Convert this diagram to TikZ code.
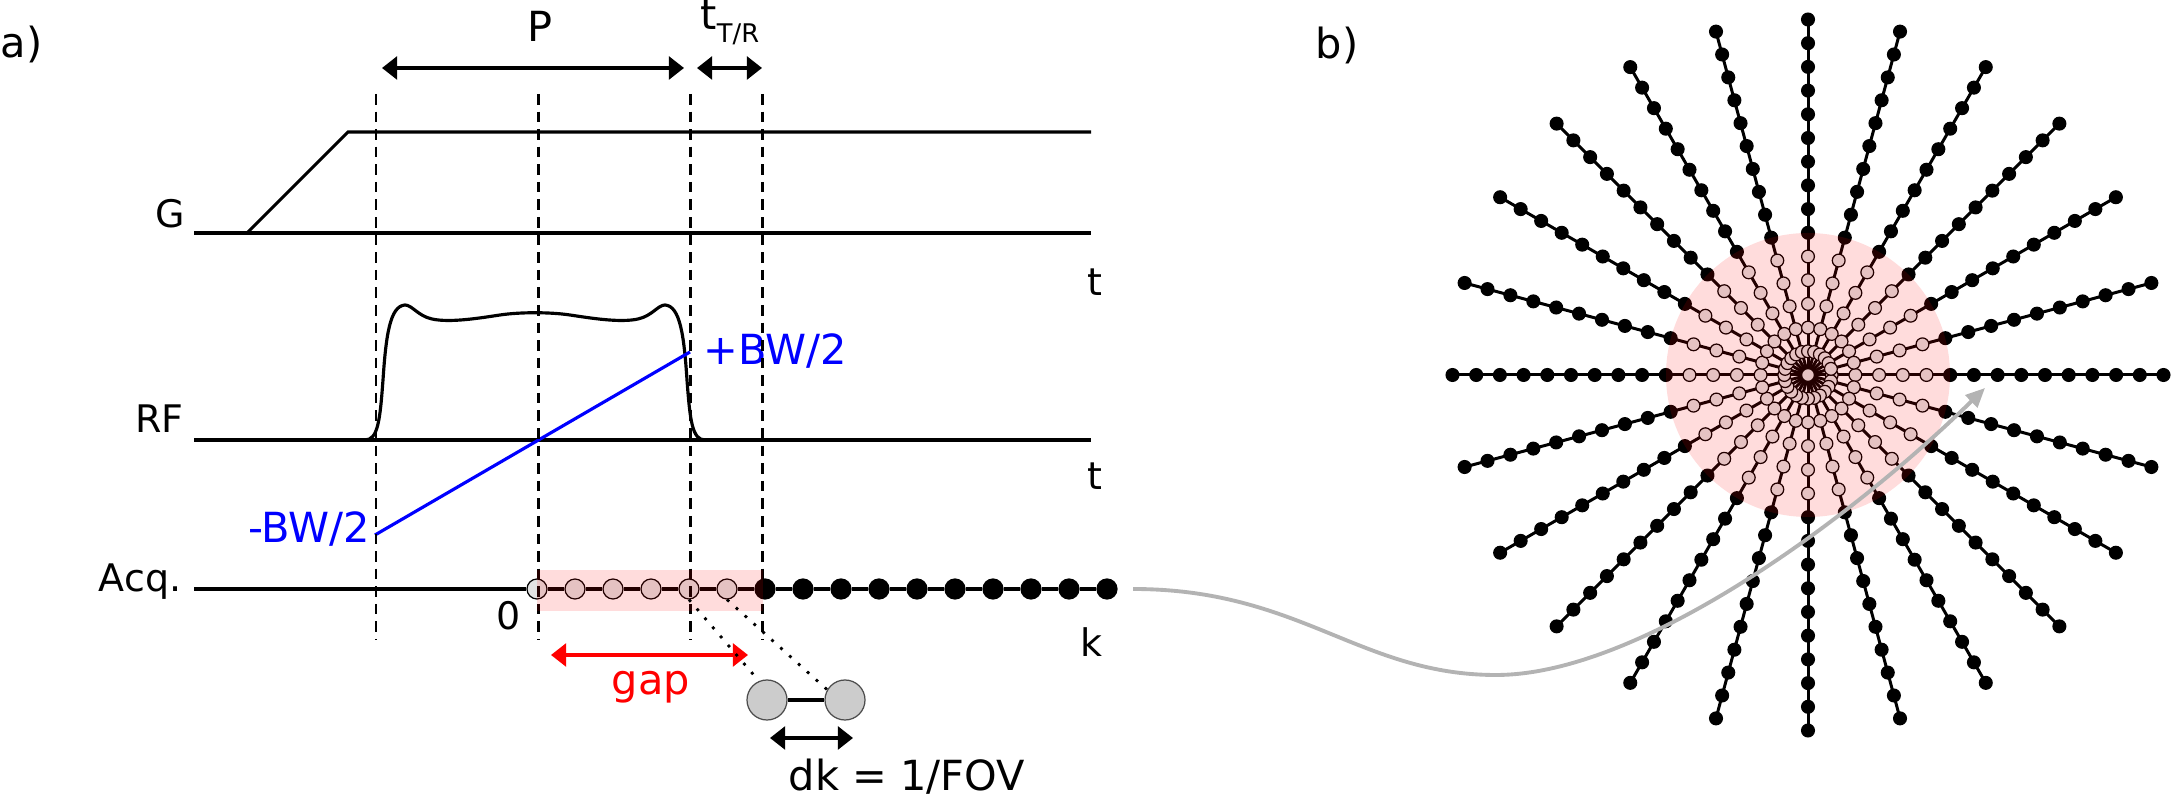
\documentclass[tikz,border=0pt]{standalone}
\usepackage{fontspec}
\setmainfont{DejaVu Sans}
\usetikzlibrary{arrows.meta}
\definecolor{lgray}{RGB}{226,226,226}
\definecolor{bgray}{RGB}{204,204,204}
\definecolor{cgray}{RGB}{179,179,179}
\begin{document}
\begin{tikzpicture}[x=0.01cm,y=-0.01cm,
  trace/.style={line width=0.9pt},
  vdash/.style={line width=0.85pt, dash pattern=on 3pt off 2pt},
  dim/.style={line width=0.9pt, {Triangle[length=4.3pt,width=6.5pt]}-{Triangle[length=4.3pt,width=6.5pt]}},
  lab/.style={font=\fontsize{10.8}{13}\selectfont, inner sep=0pt},
  ann/.style={font=\fontsize{11.8}{14}\selectfont, inner sep=0pt},
  adot/.style={circle, draw=black, line width=0.35pt, minimum size=0.2cm, inner sep=0pt},
  sdot/.style={circle, draw=black, line width=0.35pt, minimum size=0.128cm, inner sep=0pt},
  bigdot/.style={circle, draw=black!70, fill=bgray, line width=0.35pt, minimum size=0.4cm, inner sep=0pt},
  dotline/.style={line width=0.8pt, dash pattern=on 0.8pt off 2.6pt},
  overlay/.style={fill=red, fill opacity=0.137},
]
\useasboundingbox (0,0) rectangle (2172,798);

% panel labels
\node[ann, anchor=west] (la) at (0,45) {a)};
\node[ann] (lb) at (1337,45) {b)};

% ---------- G trace
\coordinate (g0) at (194,233);
\coordinate (g1) at (247,233);
\coordinate (g2) at (348,132);
\coordinate (g3) at (1091,132);
\coordinate (g4) at (1091,233);
\draw[trace] (g0) -- (g4);
\draw[trace] (g1) -- (g2) -- (g3);
\node[lab, anchor=base east] (lG) at (186,228) {G};
\node[lab] (tG) at (1095,282) {t};

% ---------- RF trace
\coordinate (r0) at (194,440);
\coordinate (r1) at (1091,440);
\draw[trace] (r0) -- (r1);
\draw[trace] (365,440) .. controls (378,440) and (380,420) .. (383,380)
  .. controls (386,335) and (390,306) .. (405,305)
  .. controls (412,305) and (418,316) .. (432,319)
  .. controls (450,323) and (480,318) .. (500,315)
  .. controls (520,312) and (550,312) .. (570,315)
  .. controls (590,318) and (620,323) .. (638,319)
  .. controls (652,316) and (658,305) .. (665,305)
  .. controls (680,306) and (684,335) .. (687,380)
  .. controls (690,420) and (692,440) .. (705,440);
\node[lab, anchor=base east] (lRF) at (184,433) {RF};
\node[lab] (tRF) at (1095,476) {t};

% blue bandwidth line
\coordinate (bwl) at (375,535);
\coordinate (bwr) at (690,352);
\draw[blue, line width=0.9pt] (bwl) -- (bwr);
\node[ann, text=blue, anchor=base east] (lbwm) at (371,543) {-BW/2};
\node[ann, text=blue, anchor=base west] (lbwp) at (703,365) {+BW/2};

% ---------- Acq line
\coordinate (q0) at (194,589);
\foreach \k in {0,...,5} {\node[adot, fill=lgray] (a\k) at ({537+38*\k},589) {};}
\foreach \k in {6,...,15} {\node[adot, fill=black] (a\k) at ({537+38*\k},589) {};}
\draw[trace] (q0) -- (a0.west);
\foreach \k [evaluate=\k as \n using int(\k+1)] in {0,...,14} {\draw[trace] (a\k.east) -- (a\n.west);}
\node[lab, anchor=base east] (lAcq) at (182,592) {Acq.};
\node[lab] (l0) at (509,616) {0};
\node[lab] (lk) at (1091,642) {k};

% dashed guides
\foreach \x [count=\i] in {376,538,690,762} {
  \coordinate (d\i t) at (\x,94);
  \coordinate (d\i b) at (\x,640);
  \draw[vdash] (d\i t) -- (d\i b);
}

% pink overlay on acquisition
\coordinate (pr1) at (537,570);
\coordinate (pr2) at (763,611);
\fill[overlay] (pr1) rectangle (pr2);

% P and t_T/R arrows
\coordinate (pL) at (382,68);
\coordinate (pR) at (684,68);
\coordinate (tL) at (697,68);
\coordinate (tR) at (762,68);
\draw[dim] (pL) -- (pR);
\draw[dim] (tL) -- (tR);
\node[ann] (lP) at (540,26) {P};
\node[ann, anchor=base west] (lt) at (700,30) {t\raisebox{-3.7pt}{\fontsize{7.3}{8}\selectfont T/R}};

% gap arrow
\coordinate (gL) at (551,655);
\coordinate (gR) at (748,655);
\draw[dim, red] (gL) -- (gR);
\node[ann, text=red, anchor=base] (lgap) at (651,695) {gap};

% dk illustration
\node[bigdot] (b1) at (767,700) {};
\node[bigdot] (b2) at (845,700) {};
\draw[trace] (b1.east) -- (b2.west);
\draw[dotline] (a4.south) -- (b1.113);
\draw[dotline] (a5.south) -- (b2.150);
\coordinate (kL) at (770,738);
\coordinate (kR) at (853,738);
\draw[dim] (kL) -- (kR);
\node[ann, anchor=base] (ldk) at (907,791) {dk = 1/FOV};

% ---------- panel b: radial spokes
\coordinate (bc) at (1808,375);
\foreach \a in {0,15,...,345} {
  \coordinate (e\a) at ({1808+355.5*cos(\a)},{375+355.5*sin(\a)});
  \draw[line width=0.85pt] (bc) -- (e\a);
}
\foreach \a in {0,15,...,345} {
  \foreach \k in {0,...,5} {
    \node[sdot, fill=lgray] (s\a-\k) at ({1808+23.7*\k*cos(\a)},{375+23.7*\k*sin(\a)}) {};
  }
  \foreach \k in {6,...,15} {
    \node[sdot, fill=black] (s\a-\k) at ({1808+23.7*\k*cos(\a)},{375+23.7*\k*sin(\a)}) {};
  }
}
\fill[overlay] (bc) circle[radius=142];

% gray connector curve
\coordinate (cs) at (1133,589);
\coordinate (cm) at (1496,675);
\coordinate (ce) at (1985,388);
\draw[cgray, line width=1.1pt, -{Triangle[length=5.5pt,width=4.8pt]}] (cs) .. controls (1300,589) and (1360,675) .. (cm) .. controls (1640,675) and (1850,520) .. (ce);
\end{tikzpicture}
\end{document}
